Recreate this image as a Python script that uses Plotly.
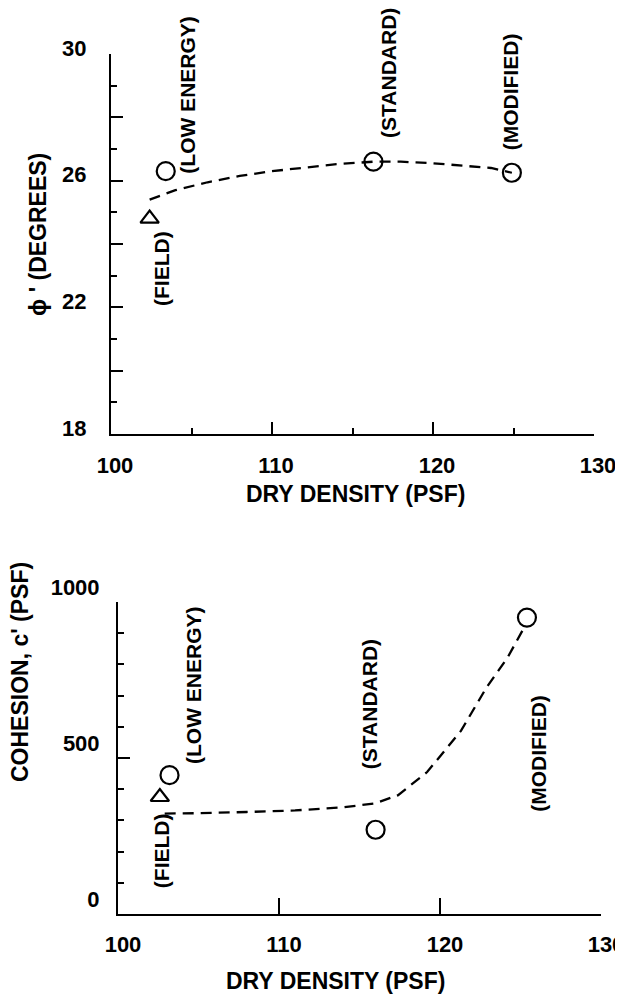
import plotly.graph_objects as go

# ---------------- data ----------------
# Top panel: friction angle phi' vs dry density
phi_lab_density = [103.4, 116.3, 124.9]
phi_lab_values = [26.3, 26.6, 26.25]
phi_field_density = [102.4]
phi_field_values = [24.8]
phi_fit_density = [102.4, 104, 106, 108, 110, 112, 114, 116.3, 118, 120, 122, 123.6, 124.9]
phi_fit_values = [25.4, 25.7, 25.95, 26.15, 26.3, 26.42, 26.52, 26.6, 26.6, 26.55, 26.47, 26.4, 26.25]

# Bottom panel: cohesion c' vs dry density
c_lab_density = [103.2, 116.0, 125.4]
c_lab_values = [445, 270, 950]
c_field_density = [102.6]
c_field_values = [375]
c_fit_density = [102.9, 105, 108, 111, 114, 116, 117.4, 119.2, 121.3, 122.9, 124.2, 125.0, 125.3]
c_fit_values = [322, 323, 327, 332, 342, 355, 381, 455, 587, 727, 822, 895, 925]

compaction_labels = ["(FIELD)", "(LOW ENERGY)", "(STANDARD)", "(MODIFIED)"]

x_ticks = [100, 110, 120, 130]
phi_ticks = [18, 20, 22, 24, 26, 28, 30]
phi_ticktext = ["18", "", "22", "", "26", "", "30"]
c_ticks = [0, 500, 1000]

# ---------------- figure ----------------
FONT = "Liberation Sans, Arial, Helvetica, sans-serif"
OFF = 8            # default page body margin
FW, FH = 615, 988  # figure size inside the 623x1004 window

fig = go.Figure()

line_style = dict(color="black", width=2.3, dash="11px,7px")
circle = dict(symbol="circle-open", size=18, color="black", line=dict(width=2.2, color="black"))
tri = dict(symbol="triangle-up-open", size=16, color="black", line=dict(width=2.2, color="black"))

fig.add_trace(go.Scatter(x=phi_fit_density, y=phi_fit_values, mode="lines", line=line_style,
                         xaxis="x", yaxis="y", showlegend=False))
fig.add_trace(go.Scatter(x=phi_lab_density, y=phi_lab_values, mode="markers", marker=circle,
                         xaxis="x", yaxis="y", showlegend=False))
fig.add_trace(go.Scatter(x=phi_field_density, y=phi_field_values, mode="markers", marker=tri,
                         xaxis="x", yaxis="y", showlegend=False))

fig.add_trace(go.Scatter(x=c_fit_density, y=c_fit_values, mode="lines", line=line_style,
                         xaxis="x2", yaxis="y2", showlegend=False))
fig.add_trace(go.Scatter(x=c_lab_density, y=c_lab_values, mode="markers", marker=circle,
                         xaxis="x2", yaxis="y2", showlegend=False))
fig.add_trace(go.Scatter(x=c_field_density, y=c_field_values, mode="markers", marker=tri,
                         xaxis="x2", yaxis="y2", showlegend=False))

tickfont = dict(family=FONT, size=22, color="black", weight="bold")

def px_x(p):
    return (p - OFF) / FW

def px_y(p):
    return 1 - (p - OFF) / FH

common = dict(showgrid=False, zeroline=False, showline=True, linecolor="black", linewidth=2,
              ticks="inside", tickcolor="black", tickwidth=2, tickfont=tickfont, automargin=False)

fig.update_layout(
    width=FW, height=FH,
    margin=dict(l=0, r=0, t=0, b=0, pad=0, autoexpand=False),
    paper_bgcolor="white", plot_bgcolor="white",
    xaxis=dict(domain=[px_x(111), px_x(594)], range=[100, 130], anchor="y",
               tickvals=x_ticks, ticklen=12, ticklabelstandoff=11, ticklabelshift=4,
               ticklabeloverflow="allow",
               minor=dict(dtick=5, tick0=100, ticklen=6, ticks="inside", tickcolor="black", tickwidth=2),
               **common),
    yaxis=dict(domain=[px_y(434), px_y(54)], range=[18, 30], anchor="x",
               tickvals=phi_ticks, ticktext=phi_ticktext, ticklen=12, ticklabelstandoff=18,
               ticklabelshift=-6,
               minor=dict(dtick=1, tick0=18, ticklen=6, ticks="inside", tickcolor="black", tickwidth=2),
               **common),
    xaxis2=dict(domain=[px_x(118), px_x(601)], range=[100, 130], anchor="y2",
                tickvals=x_ticks, ticklen=16, ticklabelstandoff=10, ticklabelshift=5,
                ticklabeloverflow="allow",
                **common),
    yaxis2=dict(domain=[px_y(914), px_y(602)], range=[0, 1000], anchor="x2",
                tickvals=c_ticks, ticklen=12, ticklabelstandoff=12, ticklabelshift=-15,
                minor=dict(dtick=100, tick0=0, ticklen=6, ticks="inside", tickcolor="black", tickwidth=2),
                **common),
)

annfont = dict(family=FONT, size=21, color="black", weight="bold")
titlefont = dict(family=FONT, size=23, color="black", weight="bold")

# compaction labels (rotated), top panel
top_label_pos = [(103.1, 23.24), (104.75, 28.73), (117.2, 29.4), (124.8, 28.8)]
for txt, (lx, ly) in zip(compaction_labels, top_label_pos):
    fig.add_annotation(x=lx, y=ly, xref="x", yref="y", text=txt, textangle=-90,
                       xanchor="center", yanchor="middle", showarrow=False, font=annfont)

bot_label_pos = [(102.7, 203), (104.7, 733), (115.6, 673), (126.1, 514)]
for txt, (lx, ly) in zip(compaction_labels, bot_label_pos):
    fig.add_annotation(x=lx, y=ly, xref="x2", yref="y2", text=txt, textangle=-90,
                       xanchor="center", yanchor="middle", showarrow=False, font=annfont)

# axis titles
titles = [
    ("DRY DENSITY (PSF)", 356, 494, 0),
    ("DRY DENSITY (PSF)", 335, 981, 0),
    ("\u03d5 ' (DEGREES)", 38, 235, -90),
    ("COHESION, c' (PSF)", 20, 672, -90),
]
for txt, tx, ty, ang in titles:
    fig.add_annotation(x=px_x(tx), y=px_y(ty), xref="paper", yref="paper", text=txt,
                       textangle=ang, xanchor="center", yanchor="middle",
                       showarrow=False, font=titlefont)

fig.write_html("out.html")
